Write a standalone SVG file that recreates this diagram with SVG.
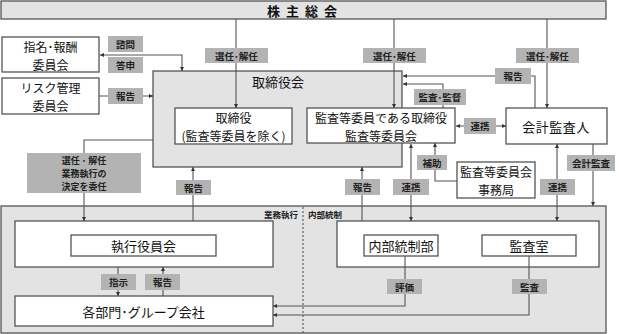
<svg xmlns="http://www.w3.org/2000/svg" width="619" height="334" viewBox="0 0 619 334">
<defs>
<marker id="ah" viewBox="0 0 6 6" refX="6" refY="3" markerWidth="4" markerHeight="4" orient="auto-start-reverse" markerUnits="userSpaceOnUse">
<path d="M0,0 L6,3 L0,6 z" fill="#333"/>
</marker>
<style>
text{font-family:"Noto Sans CJK JP","Noto Sans",sans-serif;fill:#111;text-anchor:middle;dominant-baseline:central}
.box{fill:#fff;stroke:#555;stroke-width:1.3}
.grp{fill:#e3e3e3;stroke:#555;stroke-width:1.3}
.lbl{fill:#b3b3b3;stroke:none}
.lt{font-size:9.5px;font-weight:bold;fill:#222}
.bt{font-size:13px}
.b2{font-size:12px}
.ln{fill:none;stroke:#555;stroke-width:1.1}
.end{marker-end:url(#ah)}
.both{marker-start:url(#ah);marker-end:url(#ah)}
.sm{font-size:8.5px;font-weight:bold;fill:#222}
</style>
</defs>

<g id="shareholders">
<rect x="1" y="1" width="605" height="18" class="grp" fill="#e6e6e6"/>
<text x="305" y="10.5" style="font-size:13px;font-weight:bold;letter-spacing:6px">株主総会</text>
</g>

<g id="board-group">
<rect x="153" y="71" width="249" height="96" class="grp"/>
<text x="278" y="81" style="font-size:13px">取締役会</text>
</g>

<g id="bottom-region">
<rect x="1" y="206" width="605" height="127" class="grp"/>
<line x1="303" y1="207" x2="303" y2="333" stroke="#444" stroke-width="1" stroke-dasharray="2,2"/>
<text x="298" y="214" class="sm" style="text-anchor:end">業務執行</text>
<text x="308" y="214" class="sm" style="text-anchor:start">内部統制</text>
</g>

<g id="nomination">
<rect x="2" y="37" width="97" height="35" class="box"/>
<text class="b2" x="50.5" y="46"><tspan x="50.5" y="46">指名･報酬</tspan><tspan x="50.5" y="63.5">委員会</tspan></text>
</g>
<g id="risk">
<rect x="2" y="78" width="97" height="36" class="box"/>
<text class="b2" x="50.5" y="87.3"><tspan x="50.5" y="87.3">リスク管理</tspan><tspan x="50.5" y="104.8">委員会</tspan></text>
</g>
<g id="directors">
<rect x="175" y="108" width="117" height="36" class="box"/>
<text class="b2" x="233.5" y="117.3"><tspan x="233.5" y="117.3">取締役</tspan><tspan x="233.5" y="134.8">(監査等委員を除く)</tspan></text>
</g>
<g id="audit-committee">
<rect x="307" y="108" width="148" height="35" class="box"/>
<text class="b2" x="381" y="117"><tspan x="381" y="117">監査等委員である取締役</tspan><tspan x="381" y="134.5">監査等委員会</tspan></text>
</g>
<g id="accounting-auditor">
<rect x="506" y="108" width="101" height="36" class="box"/>
<text x="556" y="126.5" class="bt" style="letter-spacing:0.5px">会計監査人</text>
</g>
<g id="secretariat">
<rect x="457" y="162" width="78" height="36" class="box"/>
<text class="b2" x="496" y="171.3"><tspan x="496" y="171.3">監査等委員会</tspan><tspan x="496" y="188.8">事務局</tspan></text>
</g>
<g id="exec-group">
<rect x="15" y="221" width="258" height="46" class="box"/>
</g>
<g id="exec-officers">
<rect x="71" y="235" width="145" height="21" class="box"/>
<text x="143.5" y="245.5" class="bt">執行役員会</text>
</g>
<g id="divisions">
<rect x="15" y="296" width="258" height="30" class="box"/>
<text x="143.5" y="311" class="bt">各部門･グループ会社</text>
</g>
<g id="control-group">
<rect x="337" y="221" width="262" height="46" class="box"/>
</g>
<g id="internal-control">
<rect x="364" y="235" width="74" height="21" class="box"/>
<text x="401" y="245.5" class="bt">内部統制部</text>
</g>
<g id="audit-office">
<rect x="482" y="235" width="94" height="21" class="box"/>
<text x="529" y="245.5" class="bt">監査室</text>
</g>

<g id="connectors">
<path class="ln end" d="M236,19 V108"/>
<path class="ln end" d="M394,19 V108"/>
<path class="ln end" d="M547,19 V108"/>
<path class="ln both" d="M100,55 H182 V71"/>
<path class="ln end" d="M99,96 H153"/>
<path class="ln end" d="M535,108 V76 H403"/>
<path class="ln end" d="M443,108 V84 H403"/>
<path class="ln both" d="M456,126 H506"/>
<path class="ln end" d="M457,181 H435 V143"/>
<path class="ln both" d="M411,144 V221"/>
<path class="ln end" d="M362,221 V167"/>
<path class="ln both" d="M557,144 V221"/>
<path class="ln end" d="M593,144 V206"/>
<path class="ln end" d="M153,140 H84 V221"/>
<path class="ln end" d="M193,221 V167"/>
<path class="ln end" d="M118,267 V296"/>
<path class="ln end" d="M163,296 V267"/>
<path class="ln end" d="M405,256 V306 H273"/>
<path class="ln end" d="M529,256 V315 H273"/>
</g>

<g id="labels">
<rect class="lbl" x="108" y="36" width="35" height="16"/><text class="lt" x="125.5" y="44">諮問</text>
<rect class="lbl" x="108" y="57" width="35" height="16"/><text class="lt" x="125.5" y="65">答申</text>
<rect class="lbl" x="108" y="88" width="35" height="16"/><text class="lt" x="125.5" y="96">報告</text>
<rect class="lbl" x="205" y="48" width="63" height="15"/><text class="lt" x="236.5" y="55.5">選任･解任</text>
<rect class="lbl" x="363" y="48" width="63" height="15"/><text class="lt" x="394.5" y="55.5">選任･解任</text>
<rect class="lbl" x="516" y="48" width="63" height="15"/><text class="lt" x="547.5" y="55.5">選任･解任</text>
<rect class="lbl" x="495" y="68" width="36" height="16"/><text class="lt" x="513" y="76">報告</text>
<rect class="lbl" x="414" y="89" width="52" height="16"/><text class="lt" x="440" y="97">監査･監督</text>
<rect class="lbl" x="464" y="118" width="32" height="16"/><text class="lt" x="480" y="126">連携</text>
<rect class="lbl" x="417" y="155" width="30" height="15"/><text class="lt" x="432" y="162.5">補助</text>
<rect class="lbl" x="393" y="179" width="36" height="16"/><text class="lt" x="411" y="187">連携</text>
<rect class="lbl" x="345" y="179" width="35" height="16"/><text class="lt" x="362.5" y="187">報告</text>
<rect class="lbl" x="540" y="179" width="35" height="16"/><text class="lt" x="557.5" y="187">連携</text>
<rect class="lbl" x="567" y="155" width="48" height="16"/><text class="lt" x="591" y="163">会計監査</text>
<rect class="lbl" x="176" y="180" width="35" height="15"/><text class="lt" x="193.5" y="187.5">報告</text>
<rect class="lbl" x="27" y="153" width="114" height="40" fill="#a9a9a9"/>
<text class="lt" style="font-size:9px" x="84" y="159.8"><tspan x="84" y="159.8">選任 ･ 解任</tspan><tspan x="84" y="173">業務執行の</tspan><tspan x="84" y="186.2">決定を委任</tspan></text>
<rect class="lbl" x="101" y="274" width="35" height="16"/><text class="lt" x="118.5" y="282">指示</text>
<rect class="lbl" x="145" y="274" width="35" height="16"/><text class="lt" x="162.5" y="282">報告</text>
<rect class="lbl" x="387" y="279" width="35" height="15"/><text class="lt" x="404.5" y="286.5">評価</text>
<rect class="lbl" x="512" y="279" width="35" height="15"/><text class="lt" x="529.5" y="286.5">監査</text>
</g>
</svg>
